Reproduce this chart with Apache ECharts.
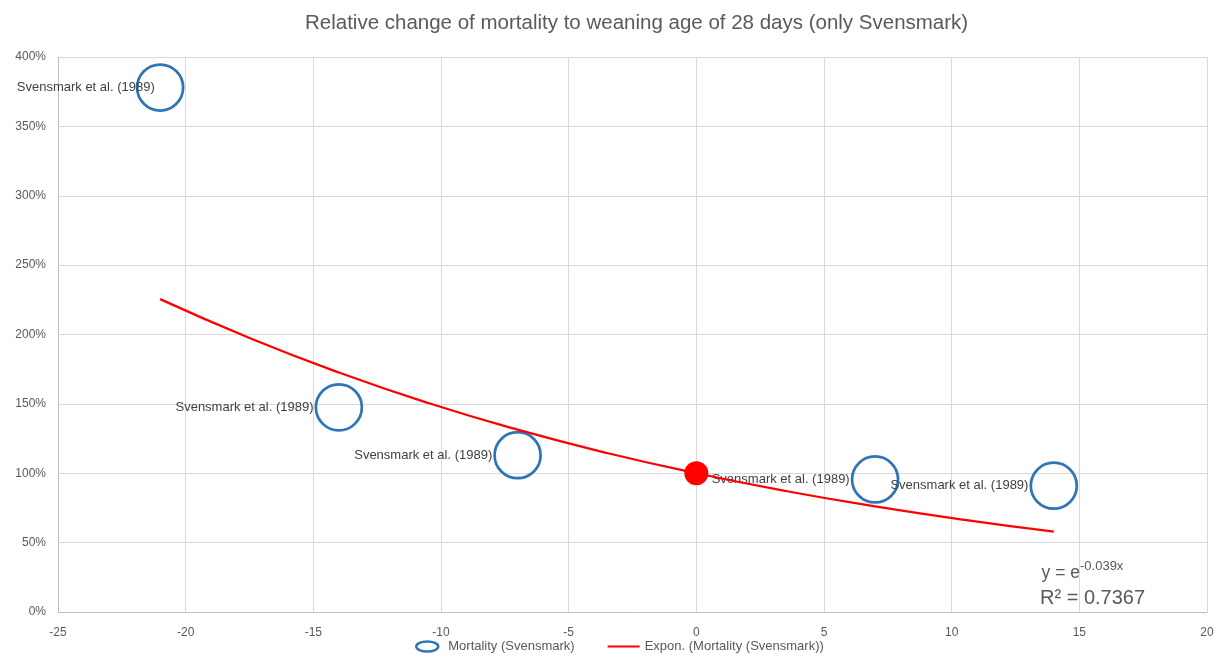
<!DOCTYPE html>
<html><head><meta charset="utf-8">
<script src="https://cdn.jsdelivr.net/npm/echarts@6/dist/echarts.min.js"></script>
<style>html,body{margin:0;padding:0;background:#fff}#c{width:1217px;height:655px}</style>
</head><body><div id="c"></div>
<script>
// Data
const weaningDiff = [-21, -14, -7, 7, 14];          // days relative to 28 days
const mortalityPct = [378, 147.5, 113, 95.5, 91];   // relative mortality (%)
const pointLabels = ['Svensmark et al. (1989)','Svensmark et al. (1989)','Svensmark et al. (1989)','Svensmark et al. (1989)','Svensmark et al. (1989)'];
const referencePoint = [0, 100];
const trendX = [-21, -17.5, -14, -10.5, -7, -3.5, 0, 3.5, 7, 10.5, 14];
const trendY = [225.5, 197.5, 172.6, 150.6, 131.4, 114.6, 100, 87.2, 76.1, 66.4, 57.9];
const xTicks = {min: -25, max: 20, interval: 5};
const yTicks = {min: 0, max: 400, interval: 50};

const font = 'Liberation Sans';
const chart = echarts.init(document.getElementById('c'));
chart.setOption({
  animation: false,
  textStyle: {fontFamily: font},
  title: {text: 'Relative change of mortality to weaning age of 28 days (only Svensmark)', left: 300, top: 8,
    textStyle: {fontFamily: font, fontSize: 20.5, fontWeight: 'normal', color: '#595959'}},
  grid: {left: 58, right: 10, top: 57, bottom: 43},
  legend: {top: 635, left: 410, itemGap: 33, itemWidth: 32, itemHeight: 10, symbolKeepAspect: true,
    textStyle: {fontFamily: font, fontSize: 13, color: '#595959'},
    data: [
      {name: 'Mortality (Svensmark)', icon: 'path://M0,5 A11,5 0 1 1 22,5 A11,5 0 1 1 0,5 Z',
        itemStyle: {color: '#fff', borderColor: '#2E75B6', borderWidth: 2.5, opacity: 1}},
      {name: 'Expon. (Mortality (Svensmark))', icon: 'path://M0,0 L32,0 L32,2.2 L0,2.2 Z',
        itemStyle: {color: '#FF0000', borderWidth: 0, opacity: 1}}
    ]},
  xAxis: {type: 'value', min: xTicks.min, max: xTicks.max, interval: xTicks.interval,
    axisLine: {show: true, onZero: false, lineStyle: {color: '#bfbfbf', width: 1}},
    axisTick: {show: false},
    axisLabel: {color: '#595959', fontSize: 12, fontFamily: font, margin: 15},
    splitLine: {show: true, lineStyle: {color: '#d9d9d9'}}},
  yAxis: {type: 'value', min: yTicks.min, max: yTicks.max, interval: yTicks.interval,
    axisLine: {show: true, onZero: false, lineStyle: {color: '#bfbfbf', width: 1}},
    axisTick: {show: false},
    axisLabel: {color: '#595959', fontSize: 12, fontFamily: font, formatter: v => v + '%', margin: 12},
    splitLine: {show: true, lineStyle: {color: '#d9d9d9'}}},
  series: [
    {name: 'Mortality (Svensmark)', type: 'scatter', symbol: 'circle', symbolSize: 46, z: 2,
      itemStyle: {color: 'rgba(255,255,255,0)', borderColor: '#2E75B6', borderWidth: 2.75, opacity: 1},
      label: {show: true, position: 'left', distance: 1, color: '#404040', fontSize: 13, fontFamily: font,
        formatter: p => pointLabels[p.dataIndex]},
      data: weaningDiff.map((x, i) => i === 0
        ? {value: [x, mortalityPct[i]], label: {offset: [20, 0]}}
        : [x, mortalityPct[i]])},
    {name: 'Expon. (Mortality (Svensmark))', type: 'line', smooth: true, symbol: 'none', z: 3,
      lineStyle: {color: '#FF0000', width: 2.25}, itemStyle: {color: '#FF0000'},
      data: trendX.map((x, i) => [x, trendY[i]])},
    {name: 'Reference', type: 'scatter', symbol: 'circle', symbolSize: 24, z: 4,
      itemStyle: {color: '#FF0000', opacity: 1}, data: [referencePoint]}
  ],
  graphic: [
    {type: 'text', x: 1080, y: 573, style: {text: 'y = e', fontFamily: font, fontSize: 17.5, fill: '#595959', align: 'right', verticalAlign: 'middle'}},
    {type: 'text', x: 1080, y: 566, style: {text: '-0.039x', fontFamily: font, fontSize: 13, fill: '#595959', align: 'left', verticalAlign: 'middle'}},
    {type: 'text', x: 1040, y: 598, style: {text: 'R² = 0.7367', fontFamily: font, fontSize: 20, fill: '#595959', align: 'left', verticalAlign: 'middle'}}
  ]
});
</script></body></html>
